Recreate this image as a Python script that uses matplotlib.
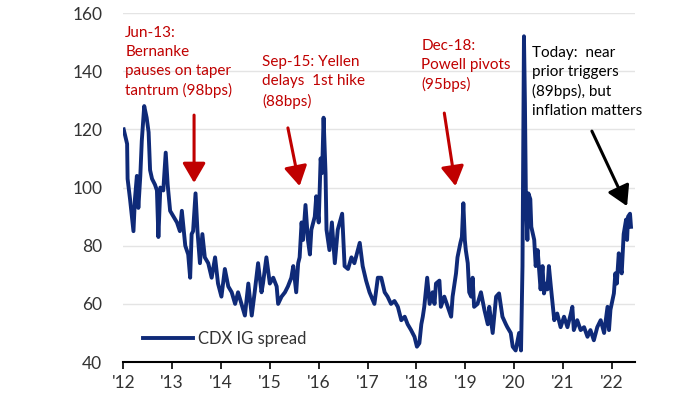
import matplotlib
matplotlib.use("Agg")
import matplotlib.pyplot as plt

# CDX IG spread (bps); time as fractional years
t = [2012.01, 2012.08, 2012.09, 2012.14, 2012.21, 2012.24, 2012.28, 2012.31, 2012.35, 2012.38,
     2012.43, 2012.48, 2012.52, 2012.55, 2012.59, 2012.65, 2012.69, 2012.72, 2012.76, 2012.82,
     2012.87, 2012.91, 2012.96, 2013.03, 2013.10, 2013.16, 2013.20, 2013.27, 2013.33, 2013.37,
     2013.40, 2013.43, 2013.48, 2013.52, 2013.57, 2013.62, 2013.67, 2013.74, 2013.81, 2013.88,
     2013.94, 2014.01, 2014.08, 2014.15, 2014.22, 2014.29, 2014.35, 2014.42, 2014.49, 2014.56,
     2014.63, 2014.69, 2014.76, 2014.83, 2014.86, 2014.93, 2015.00, 2015.07, 2015.14, 2015.17,
     2015.24, 2015.31, 2015.37, 2015.44, 2015.48, 2015.54, 2015.58, 2015.61, 2015.65, 2015.68,
     2015.73, 2015.78, 2015.82, 2015.85, 2015.92, 2015.95, 2016.00, 2016.04, 2016.07, 2016.10,
     2016.14, 2016.16, 2016.22, 2016.27, 2016.33, 2016.39, 2016.48, 2016.53, 2016.60, 2016.67,
     2016.73, 2016.84, 2016.90, 2016.97, 2017.04, 2017.14, 2017.21, 2017.28, 2017.35, 2017.41,
     2017.48, 2017.55, 2017.62, 2017.69, 2017.76, 2017.82, 2017.89, 2017.96, 2018.01, 2018.06,
     2018.10, 2018.13, 2018.16, 2018.22, 2018.27, 2018.33, 2018.37, 2018.40, 2018.47, 2018.50,
     2018.57, 2018.64, 2018.71, 2018.74, 2018.81, 2018.84, 2018.90, 2018.93, 2018.96, 2018.99,
     2019.01, 2019.05, 2019.08, 2019.12, 2019.15, 2019.18, 2019.25, 2019.32, 2019.39, 2019.46,
     2019.49, 2019.56, 2019.63, 2019.69, 2019.76, 2019.83, 2019.86, 2019.93, 2019.97, 2020.03,
     2020.10, 2020.14, 2020.17, 2020.19, 2020.20, 2020.22, 2020.24, 2020.27, 2020.29, 2020.33,
     2020.35, 2020.41, 2020.44, 2020.48, 2020.54, 2020.58, 2020.61, 2020.65, 2020.68, 2020.71,
     2020.75, 2020.82, 2020.88, 2020.95, 2021.02, 2021.09, 2021.16, 2021.19, 2021.22, 2021.29,
     2021.36, 2021.43, 2021.50, 2021.56, 2021.63, 2021.70, 2021.77, 2021.84, 2021.91, 2021.94,
     2021.97, 2022.04, 2022.07, 2022.10, 2022.14, 2022.17, 2022.20, 2022.24, 2022.29, 2022.31,
     2022.33, 2022.37, 2022.39]
spread = [120, 115, 103, 96, 85, 96, 104, 93, 104, 116,
          128, 124, 119, 106, 103, 101, 99, 83, 100, 99,
          112, 101, 92, 90, 88, 85, 92, 80, 77, 69,
          84, 85, 98, 85, 74, 84, 76, 74, 69, 76,
          67, 62.5, 72, 66, 64, 60, 64, 60, 56, 67,
          56, 64, 74, 64, 67, 76, 67, 69, 66, 60,
          62.5, 64, 66, 69, 73, 64, 74, 76, 88, 82,
          94, 82, 77, 85.5, 90, 97, 88, 110, 105, 124,
          105, 85.5, 78.5, 88, 74, 85.5, 91, 73, 72, 76,
          74, 81, 73, 68, 64, 60, 69, 69, 64, 62.5,
          60, 61, 59, 54.4, 55.6, 53, 51, 48.7, 45.3, 46.5,
          53, 55.6, 59, 69, 60, 64, 60, 67, 68, 59,
          62.5, 59, 55.6, 62.5, 70.5, 76, 81, 83, 94.6, 82,
          78.5, 74, 64, 62.5, 69, 59, 60, 64, 58, 53,
          59, 50, 62.5, 63.6, 55.6, 53, 52, 50, 45.3, 44,
          50, 44, 73, 128, 152, 129, 96, 82, 98, 96,
          86.5, 82, 73, 78.5, 65, 73, 63.6, 67, 65, 73,
          66, 54.4, 56.7, 52, 55.6, 52, 56.7, 59, 51, 54.4,
          51, 52, 48.7, 51, 47.5, 52, 54.4, 50, 59, 51,
          58, 63.6, 70.5, 67, 77.4, 72.8, 70.5, 84, 89, 82,
          90, 91, 86.5]

years = list(range(2012, 2023))
year_labels = ["'" + str(y)[2:] for y in years]

navy = "#0f2a78"
red = "#c00000"
axfont = ["Lato", "DejaVu Sans"]

fig = plt.figure(figsize=(7, 3.94), dpi=100)
ax = fig.add_axes([0.176, 0.081, 0.731, 0.886])

ax.plot(t, spread, color=navy, lw=2.8, label="CDX IG spread")

ax.set_xlim(2012, 2022.47)
ax.set_ylim(40, 160)
ax.set_yticks(range(40, 161, 20))
ax.set_xticks(years)
ax.set_xticklabels(year_labels)

ax.grid(axis="y", color="#e4e4e4", lw=1)
ax.set_axisbelow(True)
for s in ["top", "right", "left"]:
    ax.spines[s].set_visible(False)
ax.spines["bottom"].set_linewidth(1.5)
ax.tick_params(axis="y", length=0, pad=15, labelsize=12.5, labelcolor="#333333")
ax.tick_params(axis="x", length=5, width=1.2, pad=4, labelsize=12.5, labelcolor="#333333")
for lab in ax.get_xticklabels() + ax.get_yticklabels():
    lab.set_family(axfont)

leg = ax.legend(loc="center left", bbox_to_anchor=(0.025, 0.066), frameon=False,
                handlelength=3.0, handletextpad=0.3, borderaxespad=0,
                prop={"family": axfont, "size": 12})
for txt in leg.get_texts():
    txt.set_color("#333333")

afont = ["Lato", "DejaVu Sans"]
notes = [
    ("Jun-13:\nBernanke\npauses on taper\ntantrum (98bps)", 2012.04, 155.5, red),
    ("Sep-15: Yellen\ndelays  1st hike\n(88bps)", 2014.84, 145.5, red),
    ("Dec-18:\nPowell pivots\n(95bps)", 2018.10, 151.2, red),
    ("Today:  near\nprior triggers\n(89bps), but\ninflation matters", 2020.37, 148.8, "black"),
]
for txt, x, y, c in notes:
    ax.text(x, y, txt, color=c, fontsize=11, family=afont, va="top", ha="left", linespacing=1.45)

arrows = [
    ((2013.45, 101.6), (2013.45, 124.9), red),
    ((2015.61, 100.5), (2015.37, 120.5), red),
    ((2018.80, 100.5), (2018.57, 125.6), red),
    ((2022.31, 93.6), (2021.59, 119.4), "black"),
]
for tip, tail, c in arrows:
    ax.annotate("", xy=tip, xytext=tail,
                arrowprops=dict(arrowstyle="-|>,head_length=0.6,head_width=0.35",
                                color=c, lw=2.2, mutation_scale=20,
                                shrinkA=0, shrinkB=0))

fig.savefig("out.png", dpi=100)
